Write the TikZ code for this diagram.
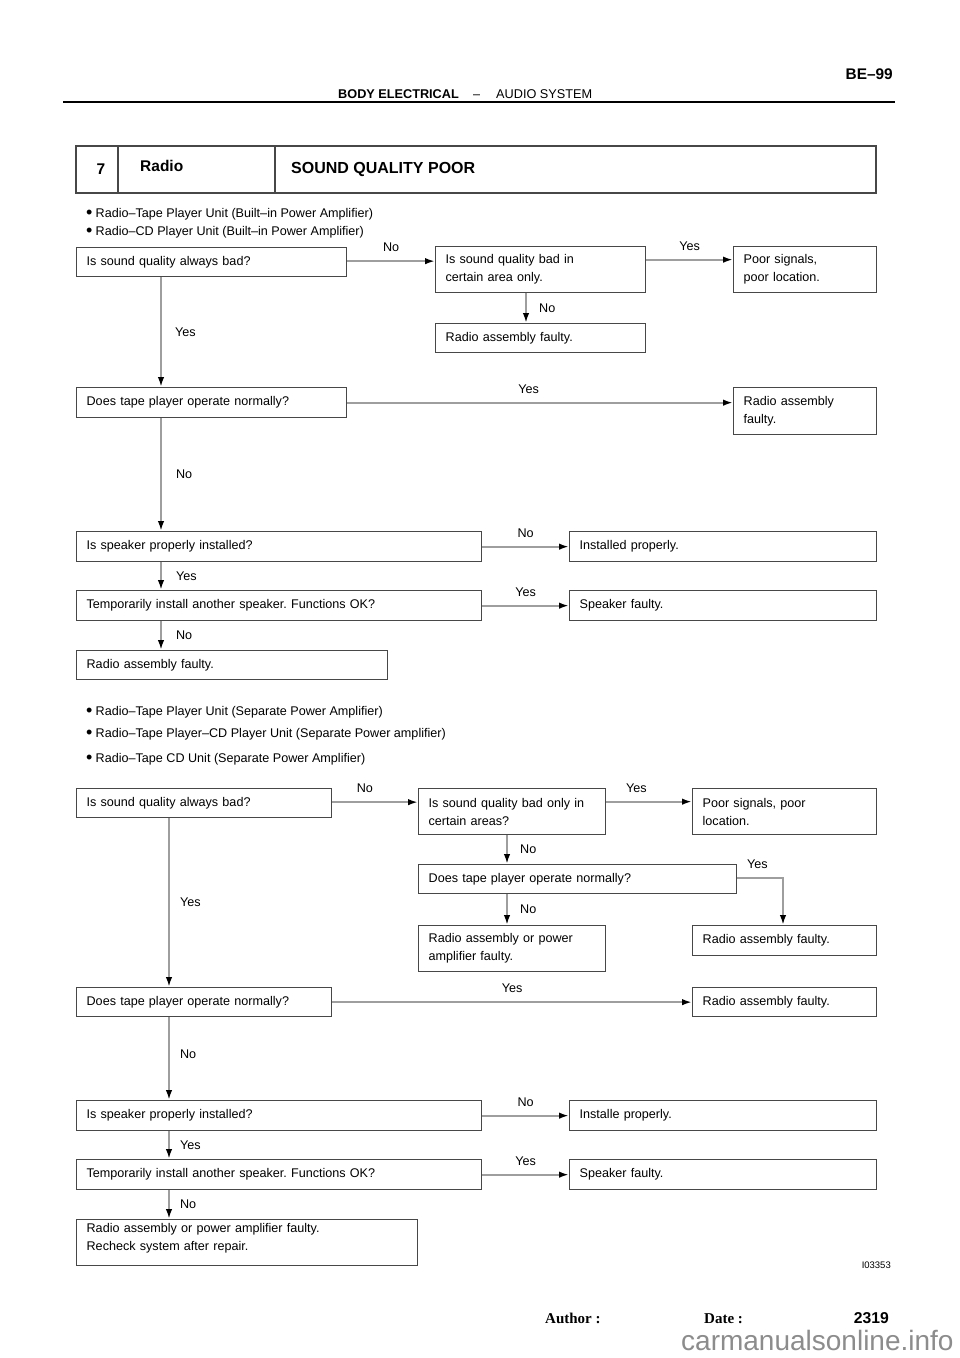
\documentclass[tikz,border=0pt]{standalone}
\usepackage{fontspec}
\setmainfont{Liberation Sans}
\newfontfamily\timesfont{Liberation Serif}
\usetikzlibrary{arrows.meta,calc}
\frenchspacing

\tikzset{
  bx/.style={draw=black!72, line width=1.3pt, rectangle, anchor=north west,
    inner xsep=10pt, inner ysep=0pt, align=left, font=\fontsize{12.6}{18}\selectfont},
  conn/.style={draw=black!38, line width=2.3pt, -{Latex[color=black,length=10pt,width=6.5pt]}},
  lbl/.style={font=\fontsize{12.6}{15}\selectfont, inner sep=0pt},
  txt/.style={font=\fontsize{12.6}{15}\selectfont, inner sep=0pt, anchor=base west},
  tbl/.style={draw=black!72, line width=1.5pt},
}
\newcommand\mybox[6]{%
  \pgfmathsetmacro\bw{#4-#2}\pgfmathsetmacro\bh{#5-#3}\pgfmathsetmacro\tw{#4-#2-20}%
  \node[bx, minimum width=\bw pt, minimum height=\bh pt, text width=\tw pt] (#1) at (#2,#3) {#6};}
\newcommand\blt{{\fontsize{18}{15}\selectfont\raisebox{-1.2pt}{\textbullet}}\hspace{3.2pt}}

\begin{document}
\begin{tikzpicture}[x=1pt,y=-1pt]
\useasboundingbox[fill=white] (0,0) rectangle (960,1358);

% page header
\draw[line width=1.8pt] (63,102) -- (895,102);
\node[txt, font=\bfseries\fontsize{12.7}{15}\selectfont] (hd1) at (338,98.5) {BODY ELECTRICAL};
\node[txt] (hd2) at (473,98.5) {–};
\node[txt, font=\fontsize{12.7}{15}\selectfont] (hd3) at (496,98.5) {AUDIO SYSTEM};
\node[inner sep=0pt, anchor=base east, font=\bfseries\fontsize{15.4}{18}\selectfont] (pg) at (893,79) {BE–99};

% title table
\draw[tbl] (76,146) rectangle (876,193);
\draw[tbl] (118,146) -- (118,193);
\draw[tbl] (275,146) -- (275,193);
\node[inner sep=0pt, anchor=base, font=\bfseries\fontsize{15.5}{18}\selectfont] (tnum) at (101,174.5) {7};
\node[txt, font=\bfseries\fontsize{15.5}{18}\selectfont] (trad) at (140,171.5) {Radio};
\node[txt, font=\bfseries\fontsize{16}{18}\selectfont] (ttl) at (291,173.8) {SOUND QUALITY POOR};

% bullets (part 1)
\node[txt] (u1) at (86,217.5) {\blt Radio–Tape Player Unit (Built–in Power Amplifier)};
\node[txt] (u2) at (86,235.5) {\blt Radio–CD Player Unit (Built–in Power Amplifier)};

% part 1 boxes
\mybox{b1}{76}{247}{346}{276}{Is sound quality always bad?}
\mybox{b2}{435}{246}{645}{292}{Is sound quality bad in\\certain area only.}
\mybox{b3}{733}{246}{876}{292}{Poor signals,\\poor location.}
\mybox{b4}{435}{323}{645}{352}{Radio assembly faulty.}
\mybox{b5}{76}{387}{346}{417}{Does tape player operate normally?}
\mybox{b6}{733}{387}{876}{434}{Radio assembly\\faulty.}
\mybox{b7}{76}{531}{481}{561}{Is speaker properly installed?}
\mybox{b8}{569}{531}{876}{561}{Installed properly.}
\mybox{b9}{76}{590}{481}{620}{Temporarily install another speaker. Functions OK?}
\mybox{b10}{569}{590}{876}{620}{Speaker faulty.}
\mybox{b11}{76}{650}{387}{679}{Radio assembly faulty.}

% part 1 connectors
\draw[conn] ([yshift=1pt]b1.east) -- ([yshift=1pt]b1.east -| b2.west) node[lbl, midway, above=8pt] {No};
\draw[conn] ([yshift=10pt]b2.east) -- ([yshift=10pt]b2.east -| b3.west) node[lbl, midway, above=8pt] {Yes};
\draw[conn] ([xshift=91pt]b2.south west) -- ([xshift=91pt]b4.north west) node[lbl, midway, right=12pt] {No};
\draw[conn] ([xshift=85pt]b1.south west) -- ([xshift=85pt]b5.north west) node[lbl, midway, right=13pt] {Yes};
\draw[conn] (b5.east) -- (b5.east -| b6.west) node[lbl, pos=0.47, above=8pt] {Yes};
\draw[conn] ([xshift=85pt]b5.south west) -- ([xshift=85pt]b7.north west) node[lbl, midway, right=14pt] {No};
\draw[conn] (b7.east) -- (b7.east -| b8.west) node[lbl, midway, above=8pt] {No};
\draw[conn] ([xshift=85pt]b7.south west) -- ([xshift=85pt]b9.north west) node[lbl, midway, right=14pt] {Yes};
\draw[conn] (b9.east) -- (b9.east -| b10.west) node[lbl, midway, above=8pt] {Yes};
\draw[conn] ([xshift=85pt]b9.south west) -- ([xshift=85pt]b11.north west) node[lbl, midway, right=14pt] {No};

% bullets (part 2)
\node[txt] (v1) at (86,715.5) {\blt Radio–Tape Player Unit (Separate Power Amplifier)};
\node[txt] (v2) at (86,737.5) {\blt Radio–Tape Player–CD Player Unit (Separate Power amplifier)};
\node[txt] (v3) at (86,762.5) {\blt Radio–Tape CD Unit (Separate Power Amplifier)};

% part 2 boxes
\mybox{c1}{76}{788}{331}{817}{Is sound quality always bad?}
\mybox{c2}{418}{788}{605}{834}{Is sound quality bad only in\\certain areas?}
\mybox{c3}{692}{788}{876}{834}{Poor signals, poor\\location.}
\mybox{c4}{418}{864}{736}{893}{Does tape player operate normally?}
\mybox{c5}{418}{925}{605}{971}{Radio assembly or power\\amplifier faulty.}
\mybox{c6}{692}{925}{876}{955}{Radio assembly faulty.}
\mybox{c7}{76}{987}{331}{1016}{Does tape player operate normally?}
\mybox{c8}{692}{987}{876}{1016}{Radio assembly faulty.}
\mybox{c9}{76}{1100}{481}{1130}{Is speaker properly installed?}
\mybox{c10}{569}{1100}{876}{1130}{Installe properly.}
\mybox{c11}{76}{1159}{481}{1189}{Temporarily install another speaker. Functions OK?}
\mybox{c12}{569}{1159}{876}{1189}{Speaker faulty.}
\mybox{c13}{76}{1219}{417}{1265}{Radio assembly or power amplifier faulty.\\Recheck system after repair.\\[-6pt]\mbox{}}

% part 2 connectors
\draw[conn] ([yshift=1pt]c1.east) -- ([yshift=1pt]c1.east -| c2.west) node[lbl, pos=0.38, above=8pt] {No};
\draw[conn] ([yshift=10pt]c2.east) -- ([yshift=10pt]c2.east -| c3.west) node[lbl, pos=0.35, above=8pt] {Yes};
\draw[conn] ([xshift=89pt]c2.south west) -- ([xshift=89pt]c4.north west) node[lbl, midway, right=12pt] {No};
\draw[conn] ([xshift=89pt]c4.south west) -- ([xshift=89pt]c5.north west) node[lbl, midway, right=12pt] {No};
\draw[conn] ([yshift=1pt]c4.east) -| ([xshift=91pt]c6.north west) node[lbl, pos=0.22, above=8pt] {Yes};
\draw[conn] ([xshift=93pt]c1.south west) -- ([xshift=93pt]c7.north west) node[lbl, midway, right=10pt] {Yes};
\draw[conn] (c7.east) -- (c7.east -| c8.west) node[lbl, midway, above=8pt] {Yes};
\draw[conn] ([xshift=93pt]c7.south west) -- ([xshift=93pt]c9.north west) node[lbl, pos=0.45, right=10pt] {No};
\draw[conn] (c9.east) -- (c9.east -| c10.west) node[lbl, midway, above=8pt] {No};
\draw[conn] ([xshift=93pt]c9.south west) -- ([xshift=93pt]c11.north west) node[lbl, midway, right=10pt] {Yes};
\draw[conn] (c11.east) -- (c11.east -| c12.west) node[lbl, midway, above=8pt] {Yes};
\draw[conn] ([xshift=93pt]c11.south west) -- ([xshift=93pt]c13.north west) node[lbl, midway, right=10pt] {No};

% figure id and footer
\node[inner sep=0pt, anchor=base east, font=\fontsize{9.5}{11}\selectfont] (fid) at (891,1268) {I03353};
\node[txt, font=\timesfont\bfseries\fontsize{15}{18}\selectfont] (au) at (545,1323) {Author :};
\node[txt, font=\timesfont\bfseries\fontsize{15}{18}\selectfont] (dt) at (704,1323) {Date :};
\node[inner sep=0pt, anchor=base east, font=\bfseries\fontsize{15.7}{18}\selectfont] (pn) at (889,1323) {2319};
\node[txt, text=black!45, font=\fontsize{28}{32}\selectfont] (wm) at (681,1350) {carmanualsonline.info};
\end{tikzpicture}
\end{document}
